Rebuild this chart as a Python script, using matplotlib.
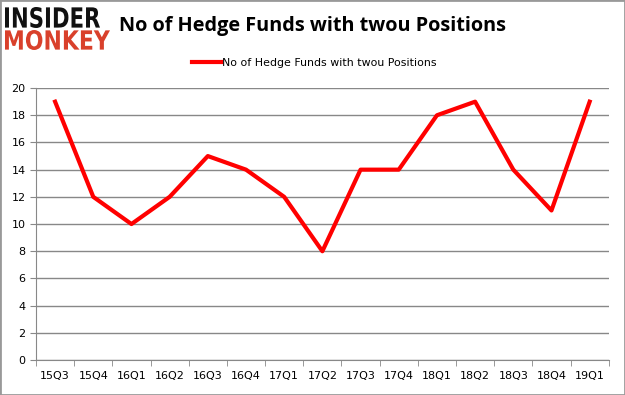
import numpy as np
import matplotlib.pyplot as plt
from matplotlib.patches import Rectangle, PathPatch
from matplotlib.textpath import TextPath
from matplotlib.font_manager import FontProperties
from matplotlib.transforms import Affine2D, IdentityTransform

# quarters and number of hedge funds
quarters = ['15Q3', '15Q4', '16Q1', '16Q2', '16Q3', '16Q4', '17Q1', '17Q2',
            '17Q3', '17Q4', '18Q1', '18Q2', '18Q3', '18Q4', '19Q1']
funds = [19, 12, 10, 12, 15, 14, 12, 8, 14, 14, 18, 19, 14, 11, 19]
y_ticks = [0, 2, 4, 6, 8, 10, 12, 14, 16, 18, 20]

fig = plt.figure(figsize=(6.25, 3.95), dpi=100)
ax = fig.add_axes([0.0576, 0.0886, 0.9164, 0.6884])

x = np.arange(len(quarters))
ax.plot(x, funds, color='#ff0000', linewidth=3, label='No of Hedge Funds with twou Positions')

ax.set_xlim(-0.5, len(quarters) - 0.5)
ax.set_ylim(0, 20)
ax.set_yticks(y_ticks)
ax.set_xticks(x)
ax.set_xticklabels(quarters)
ax.grid(axis='y', color='#888888', linewidth=1)
ax.set_axisbelow(True)
for s in ['top', 'right']:
    ax.spines[s].set_visible(False)
ax.spines['left'].set_color('#888888')
ax.spines['bottom'].set_color('#888888')
ax.tick_params(axis='y', length=4, color='#888888', labelsize=8)
ax.tick_params(axis='x', length=4, color='#888888', labelsize=8, pad=8)
ax.set_xticks(np.arange(len(quarters) + 1) - 0.5, minor=True)
ax.tick_params(axis='x', which='major', length=0)
ax.tick_params(axis='x', which='minor', length=4, color='#888888')

leg = ax.legend(loc='upper center', bbox_to_anchor=(0.486, 1.148), frameon=False,
                fontsize=7.9, handlelength=2.6, handletextpad=0.1)

fig.text(0.5, 0.935, 'No of Hedge Funds with twou Positions', ha='center', va='center',
         fontsize=14.3, fontweight='bold', family='Open Sans')


# logo, drawn as stretched text paths in pixel coordinates
def logo_word(word, color, x0, y0, w, h):
    tp = TextPath((0, 0), word, size=1, prop=FontProperties(family='DejaVu Sans', weight='bold'))
    ext = tp.get_extents()
    tr = Affine2D().translate(-ext.x0, -ext.y0).scale(w / ext.width, h / ext.height).translate(x0, y0)
    fig.patches.append(PathPatch(tr.transform_path(tp), facecolor=color, edgecolor='none',
                                 transform=IdentityTransform()))


logo_word('INSIDER', '#111111', 5, 367, 95, 21)
logo_word('MONKEY', '#d9402b', 5, 345, 105, 20)

fig.patches.append(Rectangle((0, 0), 1, 1, transform=fig.transFigure, fill=False,
                             edgecolor='#999999', linewidth=2))

fig.savefig('out.png')
